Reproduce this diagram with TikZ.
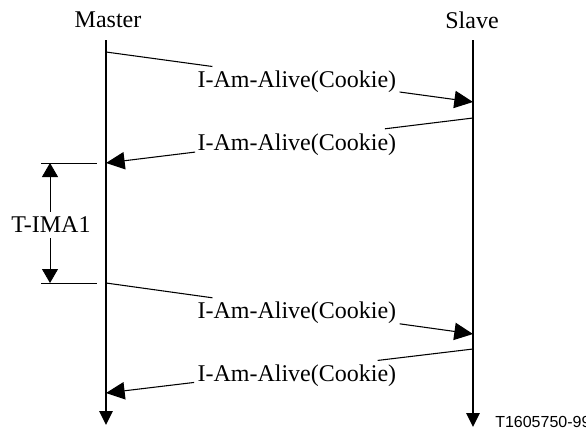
\documentclass[tikz,border=0pt]{standalone}
\usepackage{fontspec}
\setmainfont{Liberation Serif}
\newfontfamily\figsans{Liberation Sans}
\usetikzlibrary{arrows.meta,calc,positioning}

\begin{document}
\begin{tikzpicture}[x=0.75pt, y=-0.75pt, font=\fontsize{18}{22}\selectfont]
\tikzstyle{lifeline} = [line width=1.5pt, -{Triangle[length=10.5pt, width=10pt]}]
\tikzstyle{message} = [line width=0.8pt, -{Triangle[length=14pt, width=13pt]}]
\tikzstyle{plain} = [line width=0.8pt]
\tikzstyle{tick} = [line width=0.6pt]
\tikzstyle{msgtext} = [inner sep=0pt]
\useasboundingbox (0,0) rectangle (586,430);
\node (master) at (108,20) {Master};
\node (slave) at (472,20) {Slave};
\coordinate (mtop) at (106,40);
\coordinate (mbot) at (106,425);
\coordinate (stop) at (473,40);
\coordinate (sbot) at (473,427);
\draw [lifeline] (mtop) -- (mbot);
\draw [lifeline] (stop) -- (sbot);
% points on the lifelines
\coordinate (m1) at (106,52);
\coordinate (s1) at (473,102);
\coordinate (s2) at (473,118);
\coordinate (m2) at (106,163);
\coordinate (m3) at (106,283);
\coordinate (s3) at (473,334);
\coordinate (s4) at (473,349);
\coordinate (m4) at (106,393);
% messages
\node (t1) [msgtext, yshift=-2.5pt] at ($(m1)!0.52!(s1)$) {I-Am-Alive(Cookie)};
\draw [plain] (m1) -- ($(m1)!0.29!(s1)$);
\draw [message] ($(m1)!0.8!(s1)$) -- (s1);
\node (t2) [msgtext, yshift=-4pt] at ($(s2)!0.48!(m2)$) {I-Am-Alive(Cookie)};
\draw [plain] (s2) -- ($(s2)!0.24!(m2)$);
\draw [message] ($(s2)!0.757!(m2)$) -- (m2);
\node (t3) [msgtext, yshift=-2.5pt] at ($(m3)!0.52!(s3)$) {I-Am-Alive(Cookie)};
\draw [plain] (m3) -- ($(m3)!0.29!(s3)$);
\draw [message] ($(m3)!0.8!(s3)$) -- (s3);
\node (t4) [msgtext, yshift=-4pt] at ($(s4)!0.48!(m4)$) {I-Am-Alive(Cookie)};
\draw [plain] (s4) -- ($(s4)!0.26!(m4)$);
\draw [message] ($(s4)!0.76!(m4)$) -- (m4);
% timer
\coordinate (ka) at (41,163);
\coordinate (kb) at (97,163);
\coordinate (kc) at (41,283);
\coordinate (kd) at (97,283);
\draw [tick] (ka) -- (kb);
\draw [tick] (kc) -- (kd);
\coordinate (ttop) at (50,163);
\coordinate (tbot) at (50,283);
\draw [tick, {Triangle[length=10.5pt, width=12pt]}-{Triangle[length=10.5pt, width=12pt]}] (ttop) -- (tbot);
\node (timer) [fill=white, inner xsep=0pt, inner ysep=4pt] at (51,225) {T-IMA1};
\node (fignum) [anchor=west, inner sep=0pt] at (495,422) {\figsans\fontsize{12}{14}\selectfont T1605750-99};
\end{tikzpicture}
\end{document}
